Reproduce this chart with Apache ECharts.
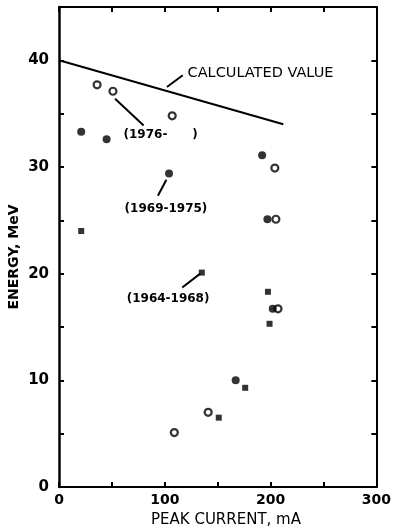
<!DOCTYPE html>
<html>
<head>
<meta charset="utf-8">
<script src="https://cdn.jsdelivr.net/npm/echarts@6/dist/echarts.min.js"></script>
<style>
  html, body { margin: 0; padding: 0; background: #fff; }
  #chart { width: 394px; height: 530px; }
</style>
</head>
<body>
<div id="chart"></div>
<script>
// calculated energy vs peak current
const calcX = [0, 212];
const calcY = [40, 34];

// measurements by period: [peak current mA, energy MeV]
const open1976 = [[36, 37.7], [51, 37.1], [107, 34.8], [204, 29.9], [205, 25.1], [207, 16.7], [141, 7.0], [109, 5.1]];
const filled1969 = [[21, 33.3], [45, 32.6], [104, 29.4], [192, 31.1], [197, 25.1], [202, 16.7], [167, 10.0]];
const square1964 = [[21, 24.0], [135, 20.1], [197.5, 18.3], [199, 15.3], [176, 9.3], [151, 6.5]];

// annotation texts (anchored at left, data coords) and leader segments
const noteTexts = ['CALCULATED VALUE', '(1976-', ')', '(1969-1975)', '(1964-1968)'];
const noteAnchors = [[121.5, 38.8], [61, 33.05], [126, 33.05], [62, 26.1], [64, 17.6]];
const noteLeaders = [
  [[102, 37.5], [117, 38.6]],
  [[53, 36.4], [80, 33.9]],
  [[101.5, 28.8], [93.5, 27.3]],
  [[116.5, 18.7], [133.5, 20.0]]
];

const xTicks = [0, 100, 200, 300];
const yTicks = [0, 10, 20, 30, 40];

const chart = echarts.init(document.getElementById('chart'));

const frameLine = { show: true, onZero: false, lineStyle: { color: '#000', width: 2 } };
const inTick = { show: true, inside: true, length: 5, lineStyle: { color: '#000', width: 2 } };

const option = {
  animation: false,
  backgroundColor: '#fff',
  grid: { left: 59, right: 16, top: 7, bottom: 43 },
  xAxis: [
    {
      type: 'value', min: 0, max: 300, interval: 50,
      axisLine: frameLine, axisTick: inTick, splitLine: { show: false },
      axisLabel: {
        margin: 6, color: '#000', fontSize: 14, fontWeight: 'bold',
        fontFamily: 'DejaVu Sans',
        formatter: v => (xTicks.includes(v) ? String(v) : '')
      }
    },
    {
      type: 'value', position: 'top', min: 0, max: 300, interval: 50,
      axisLine: frameLine, axisTick: inTick, splitLine: { show: false },
      axisLabel: { show: false }
    }
  ],
  yAxis: [
    {
      type: 'value', min: 0, max: 45, interval: 5,
      axisLine: { show: true, onZero: false, lineStyle: { color: '#000', width: 2.5 } },
      axisTick: inTick, splitLine: { show: false },
      axisLabel: {
        margin: 10, color: '#000', fontSize: 15, fontWeight: 'bold',
        fontFamily: 'DejaVu Sans',
        formatter: v => (yTicks.includes(v) ? String(v) : '')
      }
    },
    {
      type: 'value', position: 'right', min: 0, max: 45, interval: 5,
      axisLine: frameLine, axisTick: inTick, splitLine: { show: false },
      axisLabel: { show: false }
    }
  ],
  series: [
    {
      name: 'Calculated value',
      type: 'line',
      data: calcX.map((x, i) => [x, calcY[i]]),
      symbol: 'none',
      lineStyle: { color: '#000', width: 2 }
    },
    {
      name: '1976-',
      type: 'scatter',
      data: open1976,
      symbol: 'circle',
      symbolSize: 7,
      itemStyle: { color: '#fff', borderColor: '#000', borderWidth: 2.2 }
    },
    {
      name: '1969-1975',
      type: 'scatter',
      data: filled1969,
      symbol: 'circle',
      symbolSize: 8,
      itemStyle: { color: '#000' }
    },
    {
      name: '1964-1968',
      type: 'scatter',
      data: square1964,
      symbol: 'rect',
      symbolSize: 6,
      itemStyle: { color: '#000' }
    },
    {
      name: 'leaders',
      type: 'line',
      data: [],
      markLine: {
        silent: true,
        symbol: 'none',
        label: { show: false },
        lineStyle: { color: '#000', width: 2, type: 'solid' },
        data: noteLeaders.map(seg => [{ coord: seg[0] }, { coord: seg[1] }])
      }
    }
  ]
};

chart.setOption(option);

// texts placed through the chart's own coordinate conversion
const noteFonts = [
  '14.5px "DejaVu Sans", sans-serif',
  'bold 12px "DejaVu Sans", sans-serif',
  'bold 12px "DejaVu Sans", sans-serif',
  'bold 12px "DejaVu Sans", sans-serif',
  'bold 12px "DejaVu Sans", sans-serif'
];
const graphics = noteTexts.map((t, i) => {
  const p = chart.convertToPixel({ gridIndex: 0 }, noteAnchors[i]);
  return {
    type: 'text', x: p[0], y: p[1],
    style: { text: t, font: noteFonts[i], fill: '#000', textVerticalAlign: 'middle', textAlign: 'left' }
  };
});
graphics.push({
  type: 'text', x: 226, y: 520,
  style: { text: 'PEAK CURRENT, mA', font: '15px "DejaVu Sans", sans-serif', fill: '#000', textAlign: 'center', textVerticalAlign: 'middle' }
});
graphics.push({
  type: 'text', x: 14, y: 257, rotation: Math.PI / 2,
  style: { text: 'ENERGY, MeV', font: 'bold 14px "DejaVu Sans", sans-serif', fill: '#000', textAlign: 'center', textVerticalAlign: 'middle' }
});
chart.setOption({ graphic: graphics });
</script>
</body>
</html>
